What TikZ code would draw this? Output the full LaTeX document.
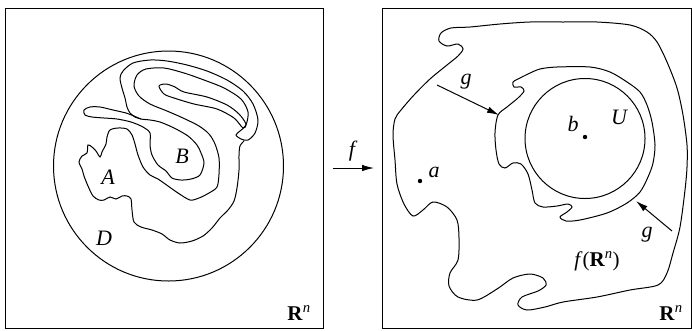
\documentclass[tikz,border=0pt]{standalone}
\usepackage{fontspec}
\setmainfont{Liberation Serif}
\usetikzlibrary{arrows.meta}
\begin{document}
\begin{tikzpicture}[x=1pt,y=-1pt, line width=1pt,
  curve/.style={line width=1pt},
  lab/.style={font=\fontsize{22}{24}\selectfont\itshape, inner sep=0pt},
  blab/.style={font=\fontsize{21}{23}\selectfont, inner sep=0pt},
  arr/.style={-{Latex[length=12pt,width=6.5pt]}, line width=1pt},
  pt/.style={circle, fill, inner sep=0pt, minimum size=4.4pt}]
\useasboundingbox (0,0) rectangle (692,330);
% frames
\draw (5,8) rectangle (323,328);
\draw (382,8) rectangle (691,328);
% ---------- left picture ----------
\draw (168.5,166) circle (115);
% spiral + A + loop round B
\draw[curve] plot[smooth, tension=0.5] coordinates {
 (141,119) (135,117) (130,113) (127,107) (125,98) (122,88) (120,78) (123,71)
 (133,63) (150,60) (167,61) (187,65) (207,71) (227,80) (243,91) (253,104)
 (258,120) (255,133) (248,140) (241,139) (236,135) (240,131) (246,125)
 (248,112) (241,99) (224,88) (204,80) (184,73) (164,68) (146,69) (137,75)
 (134,86) (139,96) (150,104) (167,111) (183,118) (199,126) (209,134)
 (215,144) (219,158) (219,174) (217,187) (209,193) (199,198) (190,200)
 (178,193) (168,186) (158,179) (150,175) (143,167) (138,155) (135,144)
 (132,135) (127,129) (118,128) (110,130) (107,137) (106,144) (102,152)
 (100,157) (96,151) (92,147) (88,145) (87,153) (82,156) (79,162) (82,169)
 (84,176) (88,186) (93,196) (99,200) (104,200) (110,197) (116,199)
 (122,196) (127,196) (131,199) (132,210) (134,222) (141,227) (152,230)
 (162,234) (170,240) (180,243) (192,241) (203,236) (212,228) (220,218)
 (228,210) (234,201) (237,188) (239,170) (239,155) (240,146) (244,141)};
% lobe + loop round B
\draw[curve] plot[smooth cycle, tension=0.5] coordinates {
 (141,119) (134,116) (126,113) (113,110) (100,107) (90,107) (84,110)
 (85,115) (92,117) (104,118) (117,119) (131,122) (143,127) (150,133)
 (150,145) (152,155) (158,165) (166,171) (172,178) (181,180) (191,179)
 (200,175) (204,163) (201,153) (197,145) (188,136) (174,128) (160,122)
 (150,120)};
% innermost loop
\draw[curve] plot[smooth cycle, tension=0.5] coordinates {
 (159,86) (166,84) (175,87) (184,92) (207,97) (227,105) (239,114)
 (246,124) (243,128) (234,118) (217,109) (194,104) (174,98) (164,94)};
\node[lab] (A) at (108,177) {A};
\node[lab] (B) at (182,156) {B};
\node[lab] (D) at (104,238) {D};
\node[blab] (R1) at (299,313) {\textbf{R}\textsuperscript{\itshape n}};
% ---------- map arrow ----------
\coordinate (f0) at (333,168);
\coordinate (f1) at (374,168);
\draw[arr] (f0) -- (f1);
\node[lab] (f) at (352,151) {f};
% ---------- right picture ----------
\draw[curve] plot[smooth cycle, tension=0.5] coordinates {
 (658,285) (630,290) (597,297) (563,302) (545,307) (527,310) (518,305)
 (522,297) (538,291) (546,285) (543,278) (530,274) (513,278) (497,289)
 (477,300) (458,297) (449,286) (450,273) (458,260) (459,238) (457,220)
 (447,207) (433,202) (423,210) (413,216) (404,204) (397,184) (395,160)
 (393,135) (395,119) (401,110) (414,95) (430,79) (447,65) (458,56)
 (463,49) (458,44) (447,46) (439,41) (441,33) (451,28) (470,27) (500,24)
 (530,22) (563,22) (597,22) (630,25) (647,32) (657,42) (667,62) (677,88)
 (683,115) (687,145) (687,167) (685,190) (680,227) (673,253) (667,273)};
\draw[curve] plot[smooth cycle, tension=0.5] coordinates {
 (498,115) (507,107) (518,98) (524,91) (521,87) (514,87) (513,82) (518,79)
 (528,74) (540,69) (557,67) (590,67) (610,72) (627,82) (640,92) (647,105)
 (652,122) (655,145) (653,163) (648,177) (640,192) (627,203) (607,213)
 (580,220) (566,221) (560,217) (567,212) (572,207) (568,204) (557,206)
 (543,207) (535,203) (532,190) (528,174) (521,164) (513,163) (505,168)
 (499,164) (496,150) (495,132)};
\draw (585,138.5) circle (60);
\node[pt] (bp) at (585,137) {};
\node[lab] (bl) at (573,124) {b};
\node[lab] (U) at (619,117) {U};
\node[pt] (ap) at (420,181) {};
\node[lab] (al) at (434,172) {a};
\coordinate (g1s) at (437,85);
\coordinate (g1e) at (499,115);
\draw[arr] (g1s) -- (g1e);
\node[lab] (g1) at (466,82) {g};
\coordinate (g2s) at (672,231);
\coordinate (g2e) at (636,201);
\draw[arr] (g2s) -- (g2e);
\node[lab] (g2) at (647,235) {g};
\node[blab] (fR) at (597,261) {\textit{f}(\textbf{R}\textsuperscript{\itshape n})};
\node[blab] (R2) at (671,313) {\textbf{R}\textsuperscript{\itshape n}};
\end{tikzpicture}
\end{document}
